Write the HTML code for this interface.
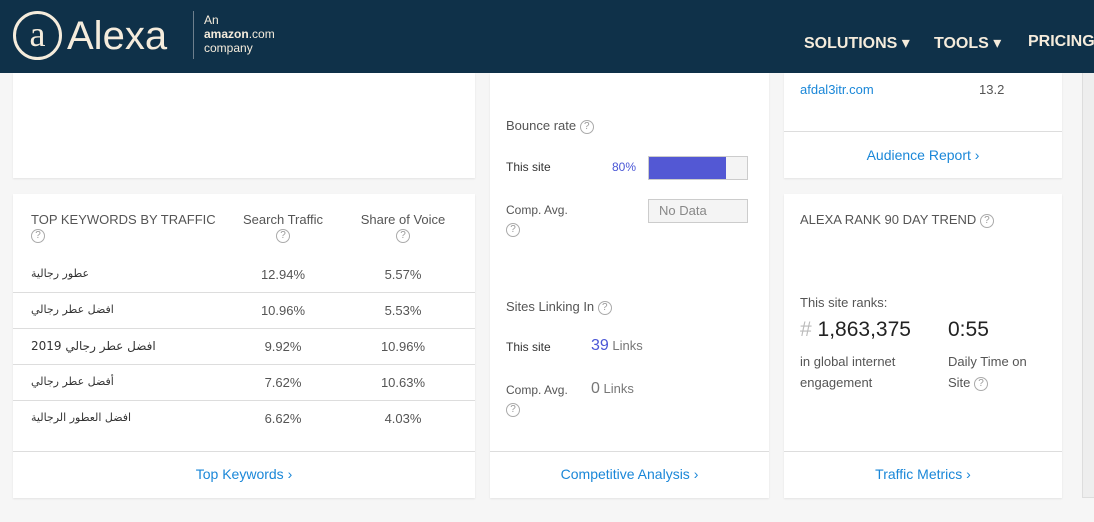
<!DOCTYPE html>
<html><head><meta charset="utf-8"><style>
*{margin:0;padding:0;box-sizing:border-box}
body{width:1094px;height:522px;overflow:hidden;background:#f6f6f6;font-family:"Liberation Sans","DejaVu Sans",sans-serif;color:#444;position:relative}
.a{position:absolute}
.card{position:absolute;background:#fff;box-shadow:0 1px 2px rgba(0,0,0,.08)}
.hdr{left:0;top:0;width:1094px;height:73px;background:#0f3149}
.q{display:inline-block;width:14px;height:14px;border:1px solid #aaa;border-radius:50%;font-size:10px;line-height:12px;text-align:center;color:#999;vertical-align:middle}
.lnk{color:#1a87d8;font-size:14px}
.hr{position:absolute;left:0;right:0;height:1px;background:#ddd}
.t13{font-size:13px;color:#555}
.ar{font-family:"DejaVu Sans",sans-serif;font-size:11px;color:#333}
</style></head><body>
<div class="a hdr"></div>
<div class="a" style="left:13px;top:11px;width:49px;height:49px;border:3px solid #f5ecdc;border-radius:50%;color:#f5ecdc;font-size:36px;line-height:40px;text-align:center;font-family:'Liberation Serif',serif">a</div>
<div class="a" style="left:67px;top:12px;color:#f5ecdc;font-size:40px;line-height:48px">Alexa</div>
<div class="a" style="left:193px;top:11px;width:1px;height:48px;background:#6d7f8d"></div>
<div class="a" style="left:204px;top:13px;color:#f5ecdc;font-size:12px;line-height:14px">An<br><b>amazon</b>.com<br>company</div>
<div class="a" style="left:804px;top:33px;color:#f5ecdc;font-size:16px;font-weight:bold">SOLUTIONS ▾</div>
<div class="a" style="left:934px;top:33px;color:#f5ecdc;font-size:16px;font-weight:bold">TOOLS ▾</div>
<div class="a" style="left:1028px;top:33px;color:#f5ecdc;font-size:16px;font-weight:bold">PRICING</div>

<div class="card" style="left:13px;top:73px;width:462px;height:105px"></div>
<div class="card" style="left:13px;top:194px;width:462px;height:304px">
 <div class="a t13" style="left:18px;top:18px">TOP KEYWORDS BY TRAFFIC<br><span class="q">?</span></div>
 <div class="a t13" style="left:220px;top:18px;width:100px;text-align:center">Search Traffic<br><span class="q">?</span></div>
 <div class="a t13" style="left:340px;top:18px;width:100px;text-align:center">Share of Voice<br><span class="q">?</span></div>
 <div class="hr" style="top:98px"></div><div class="hr" style="top:134px"></div><div class="hr" style="top:170px"></div><div class="hr" style="top:206px"></div>
 <div class="hr" style="top:257px"></div>
 <div class="a ar" style="left:18px;top:73px">عطور رجالية</div>
 <div class="a ar" style="left:18px;top:109px">افضل عطر رجالي</div>
 <div class="a ar" style="left:18px;top:145px;font-size:12px">افضل عطر رجالي 2019</div>
 <div class="a ar" style="left:18px;top:181px">أفضل عطر رجالي</div>
 <div class="a ar" style="left:18px;top:217px">افضل العطور الرجالية</div>
 <div class="a t13" style="left:220px;top:73px;width:100px;text-align:center;line-height:36px;margin-top:-10px">12.94%<br>10.96%<br>9.92%<br>7.62%<br>6.62%</div>
 <div class="a t13" style="left:340px;top:73px;width:100px;text-align:center;line-height:36px;margin-top:-10px">5.57%<br>5.53%<br>10.96%<br>10.63%<br>4.03%</div>
 <div class="a lnk" style="left:0;width:462px;text-align:center;top:272px">Top Keywords ›</div>
</div>

<div class="card" style="left:490px;top:73px;width:279px;height:425px">
 <div class="a t13" style="left:16px;top:45px">Bounce rate <span class="q">?</span></div>
 <div class="a" style="left:16px;top:87px;font-size:12px;color:#333">This site</div>
 <div class="a" style="left:122px;top:87px;font-size:12px;color:#4a56d6">80%</div>
 <div class="a" style="left:158px;top:83px;width:100px;height:24px;border:1px solid #ccc;background:#f4f4f4"><div style="width:77px;height:22px;background:#5358d4"></div></div>
 <div class="a t13" style="left:16px;top:130px;font-size:12px">Comp. Avg.<br><span class="q" style="margin-top:6px">?</span></div>
 <div class="a" style="left:158px;top:126px;width:100px;height:24px;border:1px solid #ccc;background:#f4f4f4;color:#888;font-size:13px;line-height:22px;padding-left:10px">No Data</div>
 <div class="a t13" style="left:16px;top:226px">Sites Linking In <span class="q">?</span></div>
 <div class="a" style="left:16px;top:267px;font-size:12px;color:#333">This site</div>
 <div class="a" style="left:101px;top:264px;font-size:13px;color:#777"><span style="font-size:16px;color:#4a56d6">39</span> Links</div>
 <div class="a t13" style="left:16px;top:310px;font-size:12px">Comp. Avg.<br><span class="q" style="margin-top:6px">?</span></div>
 <div class="a" style="left:101px;top:307px;font-size:13px;color:#777"><span style="font-size:16px">0</span> Links</div>
 <div class="hr" style="top:378px"></div>
 <div class="a lnk" style="left:0;width:279px;text-align:center;top:393px">Competitive Analysis ›</div>
</div>

<div class="card" style="left:784px;top:73px;width:278px;height:105px">
 <div class="a lnk" style="left:16px;top:9px;font-size:13px">afdal3itr.com</div>
 <div class="a t13" style="left:195px;top:9px">13.2</div>
 <div class="hr" style="top:58px"></div>
 <div class="a lnk" style="left:0;width:278px;text-align:center;top:74px">Audience Report ›</div>
</div>
<div class="card" style="left:784px;top:194px;width:278px;height:304px">
 <div class="a t13" style="left:16px;top:18px">ALEXA RANK 90 DAY TREND <span class="q">?</span></div>
 <div class="a t13" style="left:16px;top:101px">This site ranks:</div>
 <div class="a" style="left:16px;top:124px;font-size:21px;color:#222"><span style="color:#bbb">#</span> 1,863,375</div>
 <div class="a" style="left:164px;top:124px;font-size:21px;color:#222">0:55</div>
 <div class="a t13" style="left:16px;top:157px;line-height:21px">in global internet<br>engagement</div>
 <div class="a t13" style="left:164px;top:157px;line-height:21px">Daily Time on<br>Site <span class="q">?</span></div>
 <div class="hr" style="top:257px"></div>
 <div class="a lnk" style="left:0;width:278px;text-align:center;top:272px">Traffic Metrics ›</div>
</div>
<div class="a" style="left:1082px;top:73px;width:12px;height:425px;background:#eee;border-left:1px solid #ddd;border-bottom:1px solid #ddd"></div>
</body></html>
